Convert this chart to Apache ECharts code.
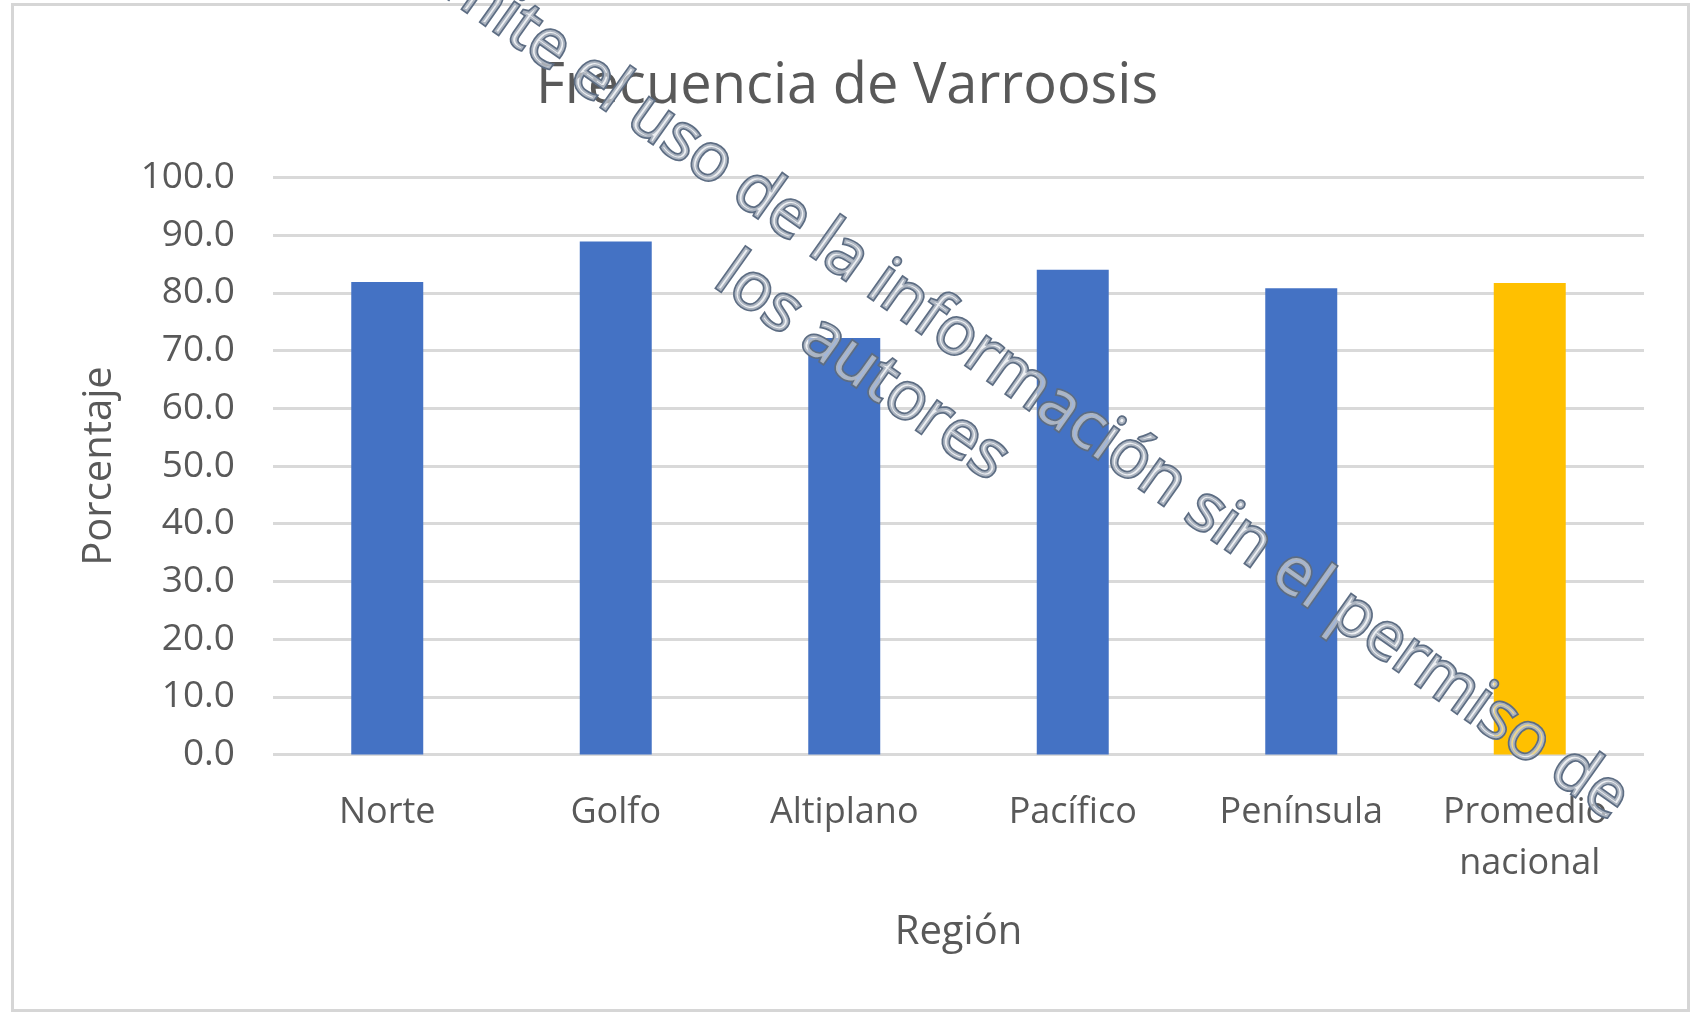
<!DOCTYPE html>
<html>
<head>
<meta charset="utf-8">
<script src="https://cdn.jsdelivr.net/npm/echarts@6/dist/echarts.min.js"></script>
<style>
html,body{margin:0;padding:0;background:#fff;}
#chart{width:1694px;height:1012px;}
</style>
</head>
<body>
<div id="chart"></div>
<script>
const categories = ['Norte', 'Golfo', 'Altiplano', 'Pacífico', 'Península', 'Promedio nacional'];
const values = [81.9, 88.9, 72.2, 84.0, 80.8, 81.7];
const titleText = 'Frecuencia de Varroosis';
const yAxisName = 'Porcentaje';
const xAxisName = 'Región';
const watermarkLine1 = 'No se permite el uso de la información sin el permiso de';
const watermarkLine2 = 'los autores';

const FONT = '"Open Sans", sans-serif';
const chart = echarts.init(document.getElementById('chart'), null, {renderer: 'canvas'});
const ang = -35.3 * Math.PI / 180;
const wmStyle = {
  font: '66px "Open Sans", sans-serif',
  fill: 'rgba(225,228,234,0.6)',
  stroke: '#5d6d83',
  lineWidth: 3.5,
  shadowColor: 'rgba(0,0,0,0.35)',
  shadowBlur: 4,
  shadowOffsetX: 2,
  shadowOffsetY: 3,
  verticalAlign: 'middle'
};
chart.setOption({
  animation: false,
  backgroundColor: '#ffffff',
  title: {
    text: titleText,
    left: 'center',
    top: 54,
    textStyle: {fontFamily: FONT, fontSize: 56, fontWeight: 'normal', color: '#595959'}
  },
  grid: {left: 273, right: 50, top: 177.5, bottom: 257.5, containLabel: false},
  xAxis: {
    type: 'category',
    data: categories,
    name: xAxisName,
    nameLocation: 'middle',
    nameGap: 158,
    nameTextStyle: {fontFamily: FONT, fontSize: 40, color: '#595959'},
    axisLine: {show: false},
    axisTick: {show: false},
    axisLabel: {
      fontFamily: FONT, fontSize: 36, color: '#595959', margin: 33,
      lineHeight: 51, width: 210, overflow: 'break', interval: 0
    }
  },
  yAxis: {
    type: 'value',
    min: 0,
    max: 100,
    interval: 10,
    name: yAxisName,
    nameLocation: 'middle',
    nameGap: 153,
    nameTextStyle: {fontFamily: FONT, fontSize: 40, color: '#595959'},
    axisLine: {show: false},
    axisTick: {show: false},
    axisLabel: {
      fontFamily: FONT, fontSize: 37, color: '#595959', margin: 38,
      formatter: v => v.toFixed(1)
    },
    splitLine: {lineStyle: {color: '#d9d9d9', width: 3}}
  },
  series: [{
    type: 'bar',
    data: values,
    barWidth: '31.5%',
    itemStyle: {
      color: p => p.dataIndex === categories.length - 1 ? '#FFC000' : '#4472C4'
    }
  }],
  graphic: [
    {
      type: 'rect', left: 10, top: 2, z: 100, silent: true,
      shape: {width: 1676, height: 1006},
      style: {fill: 'none', stroke: '#d6d6d6', lineWidth: 3}
    },
    {
      type: 'text', x: 1621, y: 806, rotation: ang, z: 110, silent: true,
      style: Object.assign({text: watermarkLine1, align: 'right'}, wmStyle)
    },
    {
      type: 'text', x: 862, y: 368, rotation: ang, z: 110, silent: true,
      style: Object.assign({text: watermarkLine2, align: 'center'}, wmStyle)
    }
  ]
});
</script>
</body>
</html>
